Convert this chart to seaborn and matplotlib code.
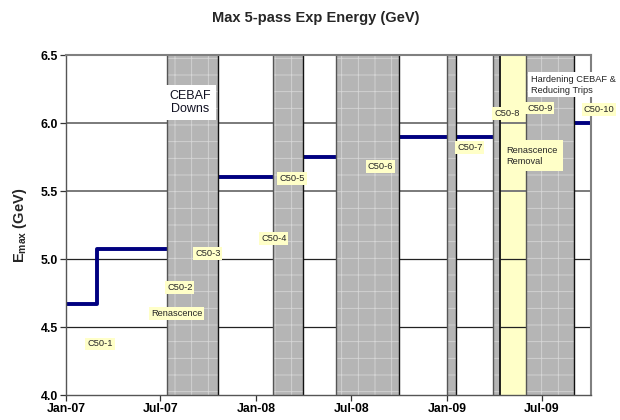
import matplotlib
matplotlib.use('Agg')
import matplotlib.pyplot as plt
import matplotlib.dates as mdates
from matplotlib.ticker import FormatStrFormatter
import pandas as pd
import seaborn as sns

# ---- data ----
step_dates = ['2007-01-01', '2007-03-01', '2007-09-01', '2008-03-01',
              '2008-08-01', '2009-07-01', '2009-10-03']
energies = [4.67, 5.07, 5.60, 5.75, 5.90, 6.00, 6.00]

down_starts = ['2007-07-14', '2008-02-02', '2008-06-01', '2009-01-01', '2009-03-29']
down_ends = ['2007-10-20', '2008-03-30', '2008-09-30', '2009-01-17', '2009-08-31']
removal_period = ['2009-04-11', '2009-05-31']

tag_texts = ['C50-1', 'Renascence', 'C50-2', 'C50-3', 'C50-4', 'C50-5',
             'C50-6', 'C50-7', 'C50-8', 'C50-9', 'C50-10', 'Renascence\nRemoval']
tag_dates = ['2007-03-07', '2007-08-01', '2007-08-07', '2007-09-30', '2008-02-03',
             '2008-03-09', '2008-08-26', '2009-02-13', '2009-04-25', '2009-06-27',
             '2009-10-18', '2009-06-12']
tag_values = [4.375, 4.60, 4.79, 5.04, 5.15, 5.59, 5.68, 5.82, 6.07, 6.11, 6.10, 5.76]

y_ticks = [4.0, 4.5, 5.0, 5.5, 6.0, 6.5]
x_tick_dates = ['2007-01-01', '2007-07-01', '2008-01-01', '2008-07-01',
                '2009-01-01', '2009-07-01']
x_limits = ['2007-01-01', '2009-10-03']

title = 'Max 5-pass Exp Energy (GeV)'

# ---- plot ----
sns.set_theme(style='white')
plt.rcParams['font.family'] = ['Liberation Sans', 'DejaVu Sans']
plt.rcParams['mathtext.fontset'] = 'custom'
plt.rcParams['mathtext.rm'] = 'Liberation Sans:bold'
plt.rcParams['mathtext.bf'] = 'Liberation Sans:bold'
plt.rcParams['hatch.linewidth'] = 0.6

fig = plt.figure(figsize=(6.2, 4.2), dpi=100)
ax = fig.add_axes([66 / 620, 25 / 420, 525 / 620, 340 / 420])

df = pd.DataFrame({'date': pd.to_datetime(step_dates), 'energy': energies})
sns.lineplot(data=df, x='date', y='energy', ax=ax, drawstyle='steps-post',
             color='#000080', linewidth=2.8, estimator=None, zorder=2)

ys, ye = pd.Timestamp(removal_period[0]), pd.Timestamp(removal_period[1])

# horizontal grid lines
for v in y_ticks[1:-1]:
    col = '#7a7a7a' if v >= 5.5 else '#222222'
    lw = 1.4 if v >= 5.5 else 0.9
    ax.axhline(v, color=col, lw=lw, zorder=1)
    ax.hlines(v, ys, ye, color=col, lw=lw, zorder=3.1)

# renascence removal (yellow)
ax.axvspan(ys, ye, facecolor='#ffffc8', edgecolor='none', zorder=3)

GRAY = '#b5b5b5'
HATCH = '#d6d6d6'


def gray_band(s, e):
    ax.axvspan(s, e, facecolor=GRAY, edgecolor='none', zorder=4)
    ax.axvspan(s, e, facecolor='none', edgecolor=HATCH, hatch='+', lw=0, zorder=4.1)


# CEBAF downs (gray, textured)
for s, e in zip(down_starts, down_ends):
    s, e = pd.Timestamp(s), pd.Timestamp(e)
    if s < ys < e:
        gray_band(s, ys)
        ax.axvline(s, color='#555555', lw=1.0, zorder=4.2)
        ax.axvline(ys, color='#111111', lw=1.3, zorder=4.2)
        s = ye
    gray_band(s, e)
    ax.axvline(s, color='#555555', lw=1.0, zorder=4.2)
    ax.axvline(e, color='#111111', lw=1.0, zorder=4.2)

# tags
for t, d, v in zip(tag_texts, tag_dates, tag_values):
    if '\n' in t:
        ax.text(pd.Timestamp(d), v, t, ha='center', va='center', fontsize=6.7,
                multialignment='left', linespacing=1.3, zorder=6,
                bbox=dict(boxstyle='square,pad=0.6', fc='#ffffc8', ec='none'))
    else:
        ax.text(pd.Timestamp(d), v, t, ha='center', va='center', fontsize=6.7,
                zorder=6, clip_on=False,
                bbox=dict(boxstyle='square,pad=0.2', fc='#ffffc8', ec='none'))

ax.text(pd.Timestamp('2009-06-10'), 6.28, 'Hardening CEBAF &\nReducing Trips',
        ha='left', va='center', fontsize=6.7, linespacing=1.2, zorder=6,
        clip_on=False,
        bbox=dict(boxstyle='square,pad=0.3', fc='white', ec='none'))
ax.text(pd.Timestamp('2007-08-27'), 6.15, 'CEBAF\nDowns', ha='center', va='center',
        fontsize=9, linespacing=1.2, color='#111122', zorder=6,
        bbox=dict(boxstyle='square,pad=0.4', fc='white', ec='none'))

# axes
ax.set_xlim(pd.Timestamp(x_limits[0]), pd.Timestamp(x_limits[1]))
ax.set_ylim(y_ticks[0], y_ticks[-1])
ax.set_yticks(y_ticks)
ax.yaxis.set_major_formatter(FormatStrFormatter('%.1f'))
ax.set_xticks(pd.to_datetime(x_tick_dates))
ax.xaxis.set_major_formatter(mdates.DateFormatter('%b-%y'))
ax.tick_params(axis='both', direction='out', length=4, width=0.9, colors='#333333',
               labelcolor='black', labelsize=8.8, pad=2)
ax.tick_params(axis='both', bottom=True, left=True)
for lab in ax.get_xticklabels() + ax.get_yticklabels():
    lab.set_fontweight('bold')

for side in ['left', 'bottom']:
    ax.spines[side].set_color('#555555')
    ax.spines[side].set_linewidth(1.0)
for side in ['top', 'right']:
    ax.spines[side].set_color('#808080')
    ax.spines[side].set_linewidth(1.5)
for sp in ax.spines.values():
    sp.set_zorder(5)

ax.set_xlabel('')
ax.set_ylabel(r'E$_{\mathrm{max}}$ (GeV)', fontsize=10.5, fontweight='bold', labelpad=8)
fig.text(316 / 620, 1 - 18 / 420, title, ha='center', va='center',
         fontsize=10.5, fontweight='bold')

fig.savefig('out.png', dpi=100)
